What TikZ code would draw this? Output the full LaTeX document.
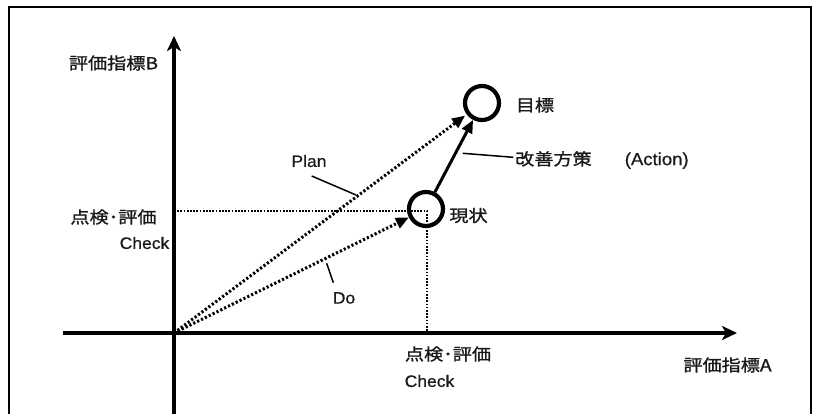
\documentclass[tikz,border=0pt]{standalone}
\usepackage{fontspec}
\newfontfamily\jp[FakeStretch=1.16, FakeBold=1.2]{Noto Sans CJK JP}
\newfontfamily\lat[FakeStretch=1.06, FakeBold=0.6]{Liberation Sans}
\usetikzlibrary{arrows.meta}
\begin{document}
\begin{tikzpicture}[x=1pt,y=-1pt,
  lbl/.style={font=\jp\fontsize{16.5}{18}\selectfont, inner sep=0pt, text=black!90},
  elbl/.style={font=\lat\fontsize{16.5}{18}\selectfont, inner sep=0pt, text=black!90},
  axis/.style={line width=3.3pt, -{Stealth[length=15pt,width=14pt,inset=4pt]}},
  dots/.style={line width=3pt, dash pattern=on 2.2pt off 2.1pt},
  guide/.style={line width=2.6pt, dash pattern=on 1.7pt off 1.5pt},
  vec/.style={-{Triangle[length=13pt,width=11pt]}},
  ring/.style={circle, draw, line width=4.2pt, minimum size=34pt, inner sep=0pt},
  callout/.style={line width=1.5pt}]
\useasboundingbox (0,0) rectangle (820,414);
\clip (0,0) rectangle (820,414);
\fill[white] (0,0) rectangle (820,414);
\draw[line width=1.2pt] (9,7) rectangle (811,440);

% axes
\coordinate (O) at (174,333);
\coordinate (ybot) at (174,430);
\coordinate (ytop) at (174,36);
\coordinate (xl) at (63,333);
\coordinate (xr) at (737,333);
\draw[axis] (ybot) -- (ytop);
\draw[axis] (xl) -- (xr);

% guides
\coordinate (gy) at (174,211);
\coordinate (gc) at (427,211);
\coordinate (gx) at (427,333);
\draw[guide] (gy) -- (gc) -- (gx);

% circles
\node[ring] (goal) at (482,103) {};
\node[ring] (cur) at (426,209) {};

% vectors
\draw[dots, vec, shorten >=2pt] (O) -- (goal);
\draw[dots, vec] (O) -- (cur);
\draw[line width=3pt, vec] (cur) -- (goal);

% labels
\node[lbl] (lB) at (113.5,63) {評価指標B};
\node[lbl] (lA) at (727.5,365) {評価指標A};
\node[lbl] (ckL) at (113.5,217) {点検･評価};
\node[elbl] (ckLe) at (144.5,243) {Check};
\node[lbl] (ckB) at (448,354) {点検･評価};
\node[elbl] (ckBe) at (429.5,381) {Check};
\node[lbl] (tgoal) at (535,105) {目標};
\node[lbl] (tcur) at (468.5,215.5) {現状};
\node[lbl, anchor=west] (tact) at (515,160) {改善方策\hspace{33pt}{\lat\fontsize{17.5}{19}\selectfont(Action)}};
\node[elbl] (tplan) at (309,161) {Plan};
\node[elbl] (tdo) at (344,298) {Do};

% callouts
\coordinate (p1) at (311.7,176);
\coordinate (p2) at (356,195);
\draw[callout] (p1) -- (p2);
\coordinate (d1) at (326.7,263.3);
\coordinate (d2) at (333.3,282.7);
\draw[callout] (d1) -- (d2);
\coordinate (a1) at (462.7,153.3);
\coordinate (a2) at (513.3,157.3);
\draw[callout] (a1) -- (a2);
\end{tikzpicture}
\end{document}
